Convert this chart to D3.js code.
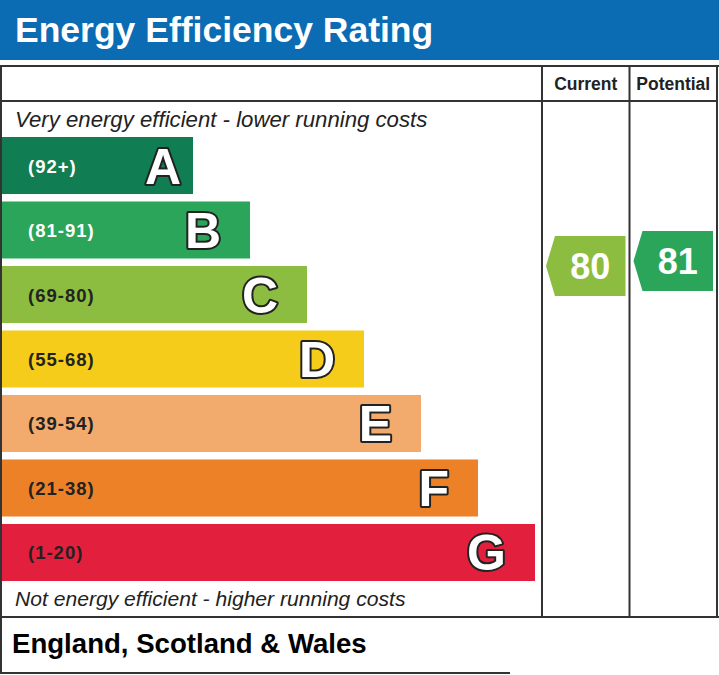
<!DOCTYPE html>
<html><head><meta charset="utf-8">
<script src="https://cdn.jsdelivr.net/npm/d3@7"></script>
<style>html,body{margin:0;padding:0;background:#fff}svg{display:block}</style>
</head><body>
<svg id="c" width="719" height="675"></svg>
<script>
const bands = ["A","B","C","D","E","F","G"];
const ranges = ["(92+)","(81-91)","(69-80)","(55-68)","(39-54)","(21-38)","(1-20)"];
const colors = ["#107d52","#2ba55a","#8dbd40","#f6cc1a","#f3aa6d","#ed8128","#e21f3c"];
const labelColors = ["#ffffff","#ffffff","#222","#222","#222","#222","#222"];
const columns = ["Current","Potential"];
const ratingValues = [80, 81];
const ratingColors = ["#8dbd40","#2ba55a"];
const title = "Energy Efficiency Rating";
const topNote = "Very energy efficient - lower running costs";
const bottomNote = "Not energy efficient - higher running costs";
const footer = "England, Scotland & Wales";

const svg = d3.select("#c");
const font = "'Liberation Sans', Arial, Helvetica, sans-serif";
const frame = "#333";
const letterInset = {A:12};

// header
svg.append("rect").attr("x",0).attr("y",0).attr("width",719).attr("height",60).attr("fill","#0b6bb3");
svg.append("text").attr("x",15).attr("y",42).text(title)
  .attr("font-family",font).attr("font-weight","bold").attr("font-size",35.5).attr("fill","#fff");

// scales
const y = d3.scaleBand().domain(bands).range([137,581]).paddingInner(0.116).paddingOuter(0);
const barEnd = d3.scaleLinear().domain([0,6]).range([193,535]);
const col = d3.scaleBand().domain(columns).range([542,717]);
const ratingY = d3.scaleLinear().domain([1,100]).range([661,166]);

// bars
const g = svg.append("g");
bands.forEach((b,i)=>{
  const y0 = y(b), h = y.bandwidth(), x1 = barEnd(i);
  g.append("rect").attr("x",2).attr("y",y0).attr("width",x1-2).attr("height",h).attr("fill",colors[i]);
  g.append("text").attr("x",28).attr("y",y0+h/2+7).text(ranges[i])
    .attr("font-family",font).attr("font-weight","bold").attr("font-size",18.5)
    .attr("letter-spacing",1).attr("fill",labelColors[i]);
  g.append("text").attr("x",x1-(letterInset[b]||29)).attr("y",y0+h/2+18).attr("text-anchor","end").text(b)
    .attr("font-family",font).attr("font-weight","bold").attr("font-size",50)
    .attr("fill","#fff").attr("stroke","#222").attr("stroke-width",4)
    .attr("stroke-linejoin","round").attr("paint-order","stroke");
});

// notes
svg.append("text").attr("x",15).attr("y",127).text(topNote)
  .attr("font-family",font).attr("font-style","italic").attr("font-size",22.2).attr("fill","#222");
svg.append("text").attr("x",15).attr("y",606).text(bottomNote)
  .attr("font-family",font).attr("font-style","italic").attr("font-size",21.1).attr("fill","#222");

// column headers
columns.forEach(c=>{
  svg.append("text").attr("x",col(c)+col.bandwidth()/2).attr("y",90).attr("text-anchor","middle").text(c)
    .attr("font-family",font).attr("font-weight","bold").attr("font-size",17.5).attr("fill","#222");
});

// rating arrows
const ah = 60, notch = 9;
columns.forEach((c,i)=>{
  const v = ratingValues[i];
  const cy = ratingY(v);
  const xl = col(c)+4, xr = col(c)+col.bandwidth()-4;
  const pts = [[xl,cy],[xl+notch,cy-ah/2],[xr,cy-ah/2],[xr,cy+ah/2],[xl+notch,cy+ah/2]];
  svg.append("path").attr("d","M"+pts.map(p=>p.join(",")).join("L")+"Z").attr("fill",ratingColors[i]);
  svg.append("text").attr("x",(xl+notch+xr)/2).attr("y",cy+12.5).attr("text-anchor","middle").text(v)
    .attr("font-family",font).attr("font-weight","bold").attr("font-size",36).attr("fill","#fff");
});

// frame lines
const L = (x1,y1,x2,y2,w=2,c=frame)=>svg.append("line").attr("x1",x1).attr("y1",y1).attr("x2",x2).attr("y2",y2)
  .attr("stroke",c).attr("stroke-width",w);
L(0,66,719,66);
L(1,101,717,101);
L(1,65,1,674);
L(717,65,717,618);
col.domain().forEach(c=>L(col(c),65,col(c),618));
L(0,617,719,617);
L(0,673,510,673);

// footer
svg.append("text").attr("x",12).attr("y",653).text(footer)
  .attr("font-family",font).attr("font-weight","bold").attr("font-size",27.6).attr("fill","#000");
</script>
</body></html>
